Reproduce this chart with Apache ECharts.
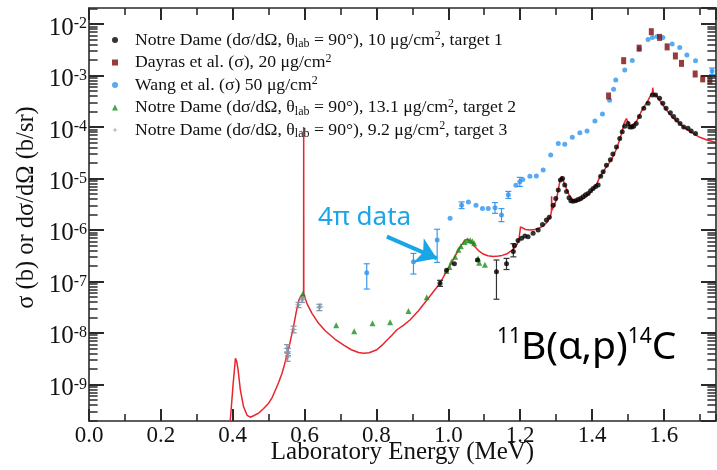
<!DOCTYPE html>
<html>
<head>
<meta charset="utf-8">
<script src="https://cdn.jsdelivr.net/npm/echarts/dist/echarts.min.js"></script>
<style>
  html, body { margin: 0; padding: 0; background: #fff; }
  #chart { width: 717px; height: 470px; }
</style>
</head>
<body>
<div id="chart"></div>
<script>
// axis ranges (MeV, cross section in b or b/sr)
const xMin = 0, xMax = 1.745;
const yMin = 1.94e-10, yMax = 0.0205;
const xTickLabels = ['0.0', '0.2', '0.4', '0.6', '0.8', '1.0', '1.2', '1.4', '1.6'];
const yTickExponents = ['-9', '-8', '-7', '-6', '-5', '-4', '-3', '-2'];
const yMinorMantissas = [2, 3, 4, 5, 6, 7, 8, 9];

// R-matrix curve (red)
const theory = [
  [0.389, 1.0e-10], [0.392, 1.6e-10], [0.397, 4.3e-10], [0.401, 1.0e-9], [0.4047, 1.9e-9],
  [0.4075, 3.2e-9], [0.411, 2.8e-9], [0.415, 1.9e-9], [0.421, 8.0e-10], [0.43, 3.7e-10],
  [0.44, 2.5e-10], [0.449, 2.3e-10], [0.458, 2.45e-10], [0.472, 2.75e-10], [0.486, 3.4e-10],
  [0.5, 4.3e-10], [0.51, 5.6e-10], [0.5186, 7.7e-10], [0.528, 1.1e-9], [0.537, 1.63e-9],
  [0.544, 2.4e-9], [0.551, 3.7e-9], [0.558, 5.8e-9], [0.565, 9.8e-9], [0.571, 1.55e-8],
  [0.576, 2.4e-8], [0.581, 3.5e-8], [0.585, 4.5e-8], [0.59, 5.2e-8], [0.5955, 5.5e-8],
  [0.5972, 5.6e-8], [0.5975, 1.0e-4], [0.5978, 5.6e-8], [0.6, 5.2e-8], [0.6067, 3.7e-8],
  [0.6205, 2.4e-8], [0.639, 1.53e-8], [0.6575, 1.1e-8], [0.685, 7.5e-9], [0.71, 5.7e-9],
  [0.73, 4.7e-9], [0.75, 4.15e-9], [0.764, 4.0e-9], [0.78, 4.1e-9], [0.801, 4.7e-9],
  [0.815, 5.7e-9], [0.829, 7.2e-9], [0.843, 9.0e-9], [0.857, 1.15e-8], [0.875, 1.4e-8],
  [0.894, 1.8e-8], [0.917, 2.7e-8], [0.94, 4.3e-8], [0.96, 6.5e-8], [0.977, 9.2e-8],
  [0.99, 1.35e-7], [1.0, 1.8e-7], [1.012, 2.5e-7], [1.023, 3.5e-7], [1.035, 4.9e-7],
  [1.046, 6.3e-7], [1.053, 6.6e-7], [1.06, 6.2e-7], [1.067, 5.5e-7], [1.074, 4.7e-7],
  [1.085, 3.9e-7], [1.097, 3.4e-7], [1.11, 3.15e-7], [1.125, 3.05e-7], [1.14, 3.1e-7],
  [1.15, 3.2e-7], [1.162, 3.4e-7], [1.175, 3.9e-7], [1.185, 4.5e-7], [1.192, 5.3e-7],
  [1.197, 7.0e-7], [1.201, 1.15e-6], [1.206, 1.12e-6], [1.215, 1.02e-6], [1.228, 1.0e-6],
  [1.24, 1.02e-6], [1.253, 1.08e-6], [1.265, 1.2e-6], [1.276, 1.45e-6], [1.284, 1.8e-6],
  [1.287, 2.3e-6], [1.2875, 4.5e-6], [1.288, 2.4e-6], [1.294, 2.9e-6], [1.301, 3.9e-6],
  [1.306, 6.0e-6], [1.311, 9.3e-6], [1.315, 1.1e-5], [1.32, 9.0e-6], [1.329, 6.3e-6],
  [1.336, 4.8e-6], [1.343, 4.1e-6], [1.35, 3.7e-6], [1.357, 3.55e-6], [1.365, 3.65e-6],
  [1.375, 4.0e-6], [1.384, 4.4e-6], [1.395, 5.3e-6], [1.405, 6.5e-6], [1.413, 7.8e-6],
  [1.421, 1.05e-5], [1.43, 1.3e-5], [1.44, 1.7e-5], [1.454, 2.3e-5], [1.466, 3.5e-5],
  [1.477, 5.6e-5], [1.484, 8.3e-5], [1.4895, 1.2e-4], [1.4956, 1.45e-4], [1.5, 1.25e-4],
  [1.505, 1.05e-4], [1.51, 1.07e-4], [1.519, 1.17e-4], [1.528, 1.45e-4], [1.537, 2.0e-4],
  [1.547, 2.6e-4], [1.556, 3.3e-4], [1.563, 4.1e-4], [1.568, 4.7e-4], [1.569, 5.8e-4],
  [1.5705, 4.7e-4], [1.578, 4.1e-4], [1.588, 3.3e-4], [1.6, 2.5e-4], [1.611, 1.98e-4],
  [1.625, 1.5e-4], [1.644, 1.17e-4], [1.66, 9.3e-5], [1.681, 7.5e-5], [1.7, 6.3e-5],
  [1.72, 5.6e-5], [1.746, 5.0e-5]
];

// Notre Dame, 10 ug/cm2, target 1 (black)
const notreDame1 = [
  [0.977, 9.2e-8], [0.995, 1.65e-7], [1.017, 2.2e-7], [1.081, 2.6e-7], [1.134, 1.54e-7],
  [1.162, 2.2e-7], [1.181, 3.8e-7], [1.184, 5.0e-7], [1.194, 6.2e-7], [1.204, 6.9e-7],
  [1.213, 7.6e-7], [1.222, 7.4e-7], [1.236, 8.6e-7], [1.25, 1.0e-6], [1.262, 1.28e-6],
  [1.273, 1.56e-6], [1.281, 1.76e-6], [1.292, 3.0e-6], [1.299, 4.1e-6], [1.306, 6.0e-6],
  [1.312, 9.3e-6], [1.318, 1.0e-5], [1.324, 7.5e-6], [1.329, 5.6e-6], [1.336, 4.2e-6],
  [1.341, 3.7e-6], [1.347, 3.6e-6], [1.354, 3.7e-6], [1.361, 3.9e-6], [1.368, 4.1e-6],
  [1.375, 4.4e-6], [1.382, 4.8e-6], [1.389, 5.1e-6], [1.396, 5.8e-6], [1.403, 6.4e-6],
  [1.41, 7.0e-6], [1.417, 7.5e-6], [1.424, 1.1e-5], [1.431, 1.35e-5], [1.44, 1.8e-5],
  [1.451, 2.3e-5], [1.458, 3.0e-5], [1.468, 4.1e-5], [1.477, 6.0e-5], [1.484, 8.1e-5],
  [1.491, 1.03e-4], [1.5, 1.17e-4], [1.505, 1.0e-4], [1.511, 1.0e-4], [1.516, 1.03e-4],
  [1.523, 1.17e-4], [1.532, 1.6e-4], [1.544, 2.3e-4], [1.556, 2.9e-4], [1.568, 4.2e-4],
  [1.577, 4.2e-4], [1.588, 3.6e-4], [1.597, 2.9e-4], [1.606, 2.3e-4], [1.618, 1.9e-4],
  [1.627, 1.6e-4], [1.636, 1.37e-4], [1.645, 1.17e-4], [1.655, 1.0e-4], [1.667, 9.4e-5],
  [1.676, 8.4e-5], [1.688, 7.5e-5]
];
const notreDame1Err = [
  [1.134, 4.5e-8, 2.6e-7], [1.162, 1.7e-7, 2.8e-7], [1.181, 3.0e-7, 5.4e-7], [0.977, 8.0e-8, 1.05e-7]
];

// Dayras et al., 20 ug/cm2 (dark red)
const dayras = [
  [1.446, 4.0e-4], [1.488, 1.94e-3], [1.531, 3.4e-3], [1.565, 7.1e-3], [1.588, 5.5e-3],
  [1.609, 3.6e-3], [1.632, 2.4e-3], [1.649, 1.72e-3], [1.687, 1.07e-3], [1.708, 8.6e-4],
  [1.728, 7.9e-4]
];

// Wang et al., 50 ug/cm2 (blue)
const wang = [
  [0.773, 1.47e-7], [0.903, 2.4e-7], [0.969, 6.4e-7], [1.005, 1.68e-6], [1.037, 3.0e-6],
  [1.056, 3.5e-6], [1.077, 3.0e-6], [1.095, 2.6e-6], [1.111, 2.6e-6], [1.13, 2.7e-6],
  [1.148, 1.95e-6], [1.167, 4.8e-6], [1.188, 7.4e-6], [1.199, 8.6e-6], [1.207, 9.5e-6],
  [1.227, 1.1e-5], [1.245, 1.12e-5], [1.264, 1.46e-5], [1.285, 2.85e-5], [1.306, 4.8e-5],
  [1.324, 4.6e-5], [1.345, 6.3e-5], [1.366, 7.7e-5], [1.386, 8.4e-5], [1.408, 1.3e-4],
  [1.429, 1.78e-4], [1.449, 3.3e-4], [1.46, 5.4e-4], [1.466, 8.2e-4], [1.491, 1.28e-3],
  [1.512, 1.96e-3], [1.532, 3.3e-3], [1.556, 5.0e-3], [1.568, 5.5e-3], [1.581, 5.7e-3],
  [1.597, 5.5e-3], [1.623, 4.1e-3], [1.644, 3.5e-3], [1.664, 2.5e-3], [1.688, 1.94e-3],
  [1.734, 1.22e-3]
];
const wangErr = [
  [0.773, 7.1e-8, 2.2e-7], [0.903, 1.39e-7, 3.5e-7], [0.969, 2.34e-7, 1.03e-6],
  [1.037, 2.6e-6, 3.5e-6], [1.13, 2.1e-6, 3.4e-6], [1.148, 1.45e-6, 2.6e-6],
  [1.167, 4.1e-6, 5.6e-6], [1.199, 7.0e-6, 1.05e-5], [1.734, 1.05e-3, 1.4e-3]
];

// Notre Dame, 13.1 ug/cm2, target 2 (green)
const notreDame2 = [
  [0.5955, 5.85e-8], [0.688, 1.4e-8], [0.738, 1.08e-8], [0.789, 1.53e-8], [0.838, 1.6e-8],
  [0.889, 2.65e-8], [0.94, 4.9e-8], [0.995, 1.6e-7], [1.003, 1.9e-7], [1.009, 2.4e-7],
  [1.019, 3.0e-7], [1.028, 4.1e-7], [1.035, 4.8e-7], [1.045, 5.8e-7], [1.054, 6.3e-7],
  [1.061, 6.3e-7], [1.067, 6.0e-7], [1.072, 5.5e-7], [1.083, 2.8e-7], [1.086, 2.3e-7],
  [1.102, 2.1e-7]
];

// Notre Dame, 9.2 ug/cm2, target 3 (grey blue)
const notreDame3 = [
  [0.551, 5.0e-9], [0.554, 4.3e-9], [0.553, 3.4e-9], [0.5695, 1.17e-8], [0.583, 3.5e-8],
  [0.593, 4.4e-8], [0.5955, 4.6e-8], [0.641, 3.1e-8], [0.643, 3.3e-8]
];
const notreDame3Err = [
  [0.551, 4.2e-9, 5.9e-9], [0.554, 3.6e-9, 5.0e-9], [0.553, 2.8e-9, 4.0e-9],
  [0.5695, 1.0e-8, 1.35e-8], [0.583, 3.1e-8, 3.9e-8], [0.593, 3.9e-8, 4.9e-8],
  [0.641, 2.7e-8, 3.6e-8]
];

// annotation arrow, tail -> head
const arrowFrom = [0.829, 7.4e-7];
const arrowTo = [0.968, 2.8e-7];

const names = [
  'Notre Dame (dσ/dΩ, θlab = 90°), 10 μg/cm², target 1',
  'Dayras et al. (σ), 20 μg/cm²',
  'Wang et al. (σ) 50 μg/cm²',
  'Notre Dame (dσ/dΩ, θlab = 90°), 13.1 μg/cm², target 2',
  'Notre Dame (dσ/dΩ, θlab = 90°), 9.2 μg/cm², target 3'
];
const legendRich = {
  [names[0]]: 'Notre Dame (dσ/dΩ, θ{sub|lab} = 90°), 10 μg/cm{sup|2}, target 1',
  [names[1]]: 'Dayras et al. (σ), 20 μg/cm{sup|2}',
  [names[2]]: 'Wang et al. (σ) 50 μg/cm{sup|2}',
  [names[3]]: 'Notre Dame (dσ/dΩ, θ{sub|lab} = 90°), 13.1 μg/cm{sup|2}, target 2',
  [names[4]]: 'Notre Dame (dσ/dΩ, θ{sub|lab} = 90°), 9.2 μg/cm{sup|2}, target 3'
};

const serif = '"Liberation Serif", "DejaVu Serif", serif';
const ink = '#111';
const frame = '#2a2a2a';

function errSeries(data, color) {
  return {
    type: 'custom',
    silent: true,
    z: 3,
    data: data,
    encode: { x: 0, y: [1, 2] },
    renderItem: function (params, api) {
      const x = api.value(0);
      const lo = api.coord([x, api.value(1)]);
      const hi = api.coord([x, api.value(2)]);
      const style = { stroke: color, lineWidth: 1.2 };
      return {
        type: 'group',
        children: [
          { type: 'line', shape: { x1: lo[0], y1: lo[1], x2: hi[0], y2: hi[1] }, style: style },
          { type: 'line', shape: { x1: lo[0] - 3, y1: lo[1], x2: lo[0] + 3, y2: lo[1] }, style: style },
          { type: 'line', shape: { x1: hi[0] - 3, y1: hi[1], x2: hi[0] + 3, y2: hi[1] }, style: style }
        ]
      };
    }
  };
}

// log minor ticks (2..9 per decade) as short segments on the left and right frame
const minorLen = 0.024; // about 8.5 px in MeV
const yMinorLines = [];
yTickExponents.concat(['-10']).forEach(function (e) {
  yMinorMantissas.forEach(function (m) {
    const v = m * Math.pow(10, Number(e));
    if (v > yMin && v < yMax * 0.99) {
      yMinorLines.push([{ coord: [xMin, v] }, { coord: [xMin + minorLen, v] }]);
      yMinorLines.push([{ coord: [xMax - minorLen, v] }, { coord: [xMax, v] }]);
    }
  });
});

function xAxisDef(pos, interval, len, extra) {
  return Object.assign({
    type: 'value', position: pos, min: xMin, max: xMax, interval: interval,
    axisLine: { show: len > 10, onZero: false, lineStyle: { color: frame, width: 1.6 } },
    axisTick: { show: true, inside: true, length: len, lineStyle: { color: frame, width: len > 10 ? 2 : 1.6 } },
    axisLabel: { show: false }, splitLine: { show: false }
  }, extra || {});
}

function yAxisDef(pos, extra) {
  return Object.assign({
    type: 'log', logBase: 10, position: pos, min: yMin, max: yMax,
    axisLine: { show: true, onZero: false, lineStyle: { color: frame, width: 1.6 } },
    axisTick: { show: true, inside: true, length: 15, lineStyle: { color: frame, width: 2 } },
    axisLabel: { show: false }, splitLine: { show: false }
  }, extra || {});
}

const chart = echarts.init(document.getElementById('chart'));
chart.setOption({
  animation: false,
  grid: { left: 89, right: 1, top: 8, bottom: 49, outerBoundsMode: 'none' },
  legend: {
    data: names,
    orient: 'vertical',
    left: 112,
    top: 30,
    padding: 0,
    itemWidth: 6,
    itemHeight: 6,
    itemGap: 2.5,
    selectedMode: false,
    formatter: function (n) { return legendRich[n]; },
    textStyle: {
      fontFamily: serif, fontSize: 17.7, lineHeight: 20, color: ink, padding: [0, 0, 0, 12],
      rich: {
        sub: { fontFamily: serif, fontSize: 12, lineHeight: 8, verticalAlign: 'bottom', color: ink },
        sup: { fontFamily: serif, fontSize: 12, lineHeight: 10, verticalAlign: 'top', color: ink }
      }
    }
  },
  xAxis: [
    xAxisDef('bottom', 0.2, 12, {
      name: 'Laboratory Energy (MeV)', nameLocation: 'middle', nameGap: 19, nameMoveOverlap: false,
      nameTextStyle: { fontFamily: serif, fontSize: 25, color: ink },
      axisLabel: {
        show: true, margin: 3, fontFamily: serif, fontSize: 23, color: ink, showMaxLabel: false,
        formatter: function (v) { const i = Math.round(v / 0.2); return Math.abs(v - i * 0.2) < 1e-6 ? (xTickLabels[i] || '') : ''; }
      }
    }),
    xAxisDef('bottom', 0.1, 7),
    xAxisDef('top', 0.2, 12),
    xAxisDef('top', 0.1, 7)
  ],
  yAxis: [
    yAxisDef('left', {
      name: 'σ (b) or dσ/dΩ (b/sr)', nameLocation: 'middle', nameGap: 50, nameMoveOverlap: false,
      nameTextStyle: { fontFamily: serif, fontSize: 24.5, color: ink, padding: [0, 0, 0, 14] },
      axisLabel: {
        show: true, margin: 2, showMinLabel: false, showMaxLabel: false, padding: [8, 0, 0, 0],
        formatter: function (v) {
          const e = String(Math.round(Math.log10(v)));
          return yTickExponents.indexOf(e) >= 0 ? '{b|10}{e|' + e + '}' : '';
        },
        rich: {
          b: { fontFamily: serif, fontSize: 25, lineHeight: 24, color: ink },
          e: { fontFamily: serif, fontSize: 16, lineHeight: 12, verticalAlign: 'top', color: ink }
        }
      }
    }),
    yAxisDef('right')
  ],
  graphic: [
    {
      type: 'text', left: 318, top: 205, silent: true,
      style: { text: '4π data', font: '26px "Noto Sans"', fill: '#1aa6e6' }
    },
    {
      type: 'text', left: 497, top: 327, silent: true,
      style: {
        text: '{s|11}{m|B(α,p)}{s|14}{m|C}',
        rich: {
          m: { fontFamily: '"Noto Sans"', fontSize: 39, lineHeight: 42, fill: '#000' },
          s: { fontFamily: '"Noto Sans"', fontSize: 21, lineHeight: 22, verticalAlign: 'top', fill: '#000' }
        }
      }
    }
  ],
  series: [
    {
      name: 'R-matrix', type: 'line', data: theory, showSymbol: false, z: 1,
      lineStyle: { color: '#e8252c', width: 1.5 }, itemStyle: { color: '#e8252c' },
      markLine: {
        silent: true, symbol: ['none', 'arrow'], symbolSize: 20,
        label: { show: false },
        lineStyle: { color: '#1aa6e6', width: 4, type: 'solid' },
        data: [[{ coord: arrowFrom }, { coord: arrowTo }]]
      }
    },
    errSeries(notreDame3Err, '#8294aa'),
    {
      name: names[4], type: 'scatter', data: notreDame3, z: 4,
      symbol: 'path://M5,0 L6,4 L10,5 L6,6 L5,10 L4,6 L0,5 L4,4 Z', symbolSize: 8,
      itemStyle: { color: '#8294aa' }
    },
    {
      name: names[3], type: 'scatter', data: notreDame2, z: 4,
      symbol: 'triangle', symbolSize: 6, itemStyle: { color: '#1b8f1b' }
    },
    errSeries(wangErr, '#3a9af0'),
    {
      name: names[2], type: 'scatter', data: wang, z: 4,
      symbol: 'circle', symbolSize: 5, itemStyle: { color: '#2f93f0' }
    },
    {
      name: names[1], type: 'scatter', data: dayras, z: 4,
      symbol: 'rect', symbolSize: [5, 7], itemStyle: { color: '#7a0c0c' }
    },
    errSeries(notreDame1Err, '#333'),
    {
      name: names[0], type: 'scatter', data: notreDame1, z: 5,
      symbol: 'circle', symbolSize: 5, itemStyle: { color: '#000' },
      markLine: {
        silent: true, symbol: 'none', label: { show: false },
        lineStyle: { color: frame, width: 1.5, type: 'solid' },
        emphasis: { disabled: true },
        data: yMinorLines
      }
    }
  ]
});
</script>
</body>
</html>
